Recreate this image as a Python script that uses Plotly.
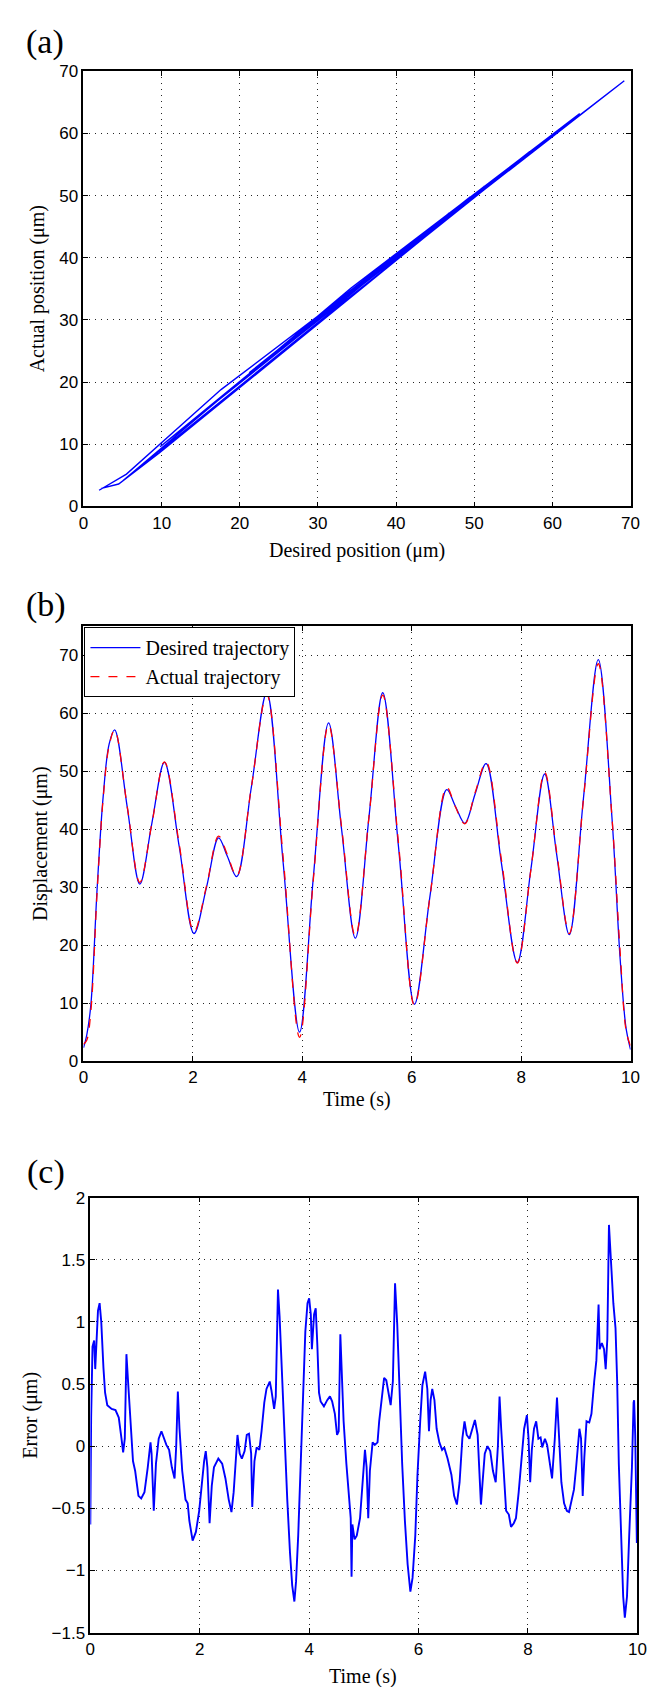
import plotly.graph_objects as go

# ---------------- data ----------------
# Panel (b): time (s), desired and actual displacement (um)
t_b = [0, 0.06, 0.135, 0.25, 0.36, 0.47, 0.57, 0.8, 1.03, 1.25, 1.48, 1.75, 2.02, 2.25,
       2.47, 2.63, 2.8, 3.07, 3.35, 3.65, 3.95, 4.2, 4.48, 4.72, 4.97, 5.22, 5.47, 5.76,
       6.05, 6.33, 6.64, 6.8, 6.97, 7.16, 7.36, 7.64, 7.93, 8.18, 8.43, 8.65, 8.88, 9.14,
       9.41, 9.66, 9.81, 9.92, 10]
desired_b = [2.3, 4.5, 9.7, 29.8, 45.6, 54.7, 57.1, 43.8, 30.5, 41.0, 51.5, 37.0, 22.0, 30.0,
             38.5, 35.3, 31.8, 47.3, 63.5, 34.2, 5.0, 31.5, 58.3, 39.8, 21.2, 42.2, 63.5, 36.8,
             9.8, 28.2, 46.8, 43.9, 41.0, 46.1, 51.3, 34.1, 17.0, 33.2, 49.5, 35.6, 21.8, 45.4,
             69.2, 42.0, 17.6, 5.5, 2.0]
actual_b = [2.9, 3.6, 8.6, 29.2, 45.3, 54.4, 57.1, 43.9, 30.8, 40.9, 51.6, 37.4, 22.3, 30.2,
            38.8, 35.6, 31.9, 47.3, 63.2, 35.1, 4.1, 31.1, 58.0, 40.2, 21.5, 42.2, 63.1, 37.4,
            9.6, 28.1, 47.2, 43.8, 40.9, 46.3, 51.5, 34.7, 16.9, 33.1, 49.8, 36.0, 22.0, 45.2,
            68.5, 42.1, 18.8, 5.2, 2.6]

# Panel (c): tracking error (um) vs time (s)
t_err = [0, 0.015, 0.04, 0.07, 0.09, 0.11, 0.14, 0.17, 0.2, 0.24, 0.27, 0.31, 0.39, 0.46,
         0.52, 0.57, 0.6, 0.63, 0.66, 0.69, 0.73, 0.78, 0.82, 0.88, 0.93, 0.99, 1.05, 1.1,
         1.12, 1.16, 1.2, 1.25, 1.3, 1.35, 1.39, 1.44, 1.49, 1.54, 1.57, 1.6, 1.63, 1.68,
         1.74, 1.78, 1.81, 1.87, 1.93, 1.99, 2.04, 2.08, 2.11, 2.14, 2.18, 2.22, 2.26, 2.34,
         2.41, 2.47, 2.53, 2.58, 2.62, 2.67, 2.69, 2.73, 2.77, 2.82, 2.86, 2.9, 2.94, 2.96,
         3.0, 3.04, 3.09, 3.13, 3.18, 3.22, 3.28, 3.31, 3.36, 3.39, 3.43, 3.46, 3.5, 3.55,
         3.6, 3.65, 3.69, 3.73, 3.76, 3.8, 3.84, 3.88, 3.93, 3.97, 4.0, 4.03, 4.05, 4.09,
         4.12, 4.15, 4.18, 4.21, 4.27, 4.33, 4.38, 4.42, 4.47, 4.51, 4.54, 4.57, 4.6, 4.63,
         4.68, 4.72, 4.76, 4.775, 4.79, 4.83, 4.87, 4.93, 4.98, 5.02, 5.05, 5.08, 5.11, 5.16,
         5.2, 5.25, 5.28, 5.32, 5.37, 5.41, 5.46, 5.49, 5.53, 5.57, 5.61, 5.65, 5.7, 5.75,
         5.8, 5.85, 5.89, 5.94, 5.98, 6.03, 6.07, 6.12, 6.16, 6.19, 6.22, 6.25, 6.29, 6.33,
         6.38, 6.43, 6.47, 6.53, 6.6, 6.65, 6.7, 6.75, 6.8, 6.84, 6.88, 6.93, 6.99, 7.03,
         7.08, 7.11, 7.14, 7.17, 7.21, 7.26, 7.31, 7.36, 7.41, 7.45, 7.48, 7.51, 7.56, 7.6,
         7.65, 7.69, 7.74, 7.78, 7.83, 7.87, 7.93, 7.98, 8.01, 8.04, 8.07, 8.11, 8.15, 8.19,
         8.23, 8.26, 8.31, 8.35, 8.4, 8.44, 8.49, 8.53, 8.57, 8.61, 8.66, 8.71, 8.75, 8.79,
         8.84, 8.88, 8.94, 8.97, 9.0, 9.03, 9.07, 9.12, 9.16, 9.21, 9.25, 9.29, 9.31, 9.35,
         9.39, 9.42, 9.45, 9.48, 9.52, 9.56, 9.6, 9.63, 9.66, 9.7, 9.74, 9.77, 9.81, 9.85,
         9.9, 9.93, 9.94, 9.96, 9.98, 9.99, 10.0]
err = [-0.63, 0.23, 0.8, 0.85, 0.62, 0.86, 1.09, 1.15, 1.0, 0.63, 0.43, 0.33, 0.3, 0.29,
       0.23, 0.06, -0.05, 0.06, 0.74, 0.52, 0.2, -0.12, -0.2, -0.4, -0.42, -0.37, -0.17, 0.03,
       -0.06, -0.52, -0.14, 0.06, 0.12, 0.06, 0.01, -0.03, -0.17, -0.26, 0.0, 0.44, 0.14, -0.2,
       -0.43, -0.46, -0.6, -0.76, -0.69, -0.52, -0.26, -0.12, -0.04, -0.17, -0.62, -0.32, -0.17, -0.1,
       -0.14, -0.26, -0.43, -0.53, -0.37, -0.06, 0.09, -0.06, -0.1, -0.04, 0.09, 0.1, -0.06, -0.49,
       -0.12, -0.01, -0.03, 0.12, 0.35, 0.46, 0.52, 0.45, 0.3, 0.4, 1.26, 1.04, 0.63, 0.0,
       -0.43, -0.86, -1.12, -1.25, -1.09, -0.72, -0.23, 0.4, 0.92, 1.15, 1.19, 1.06, 0.78, 1.06,
       1.11, 0.81, 0.43, 0.36, 0.32, 0.37, 0.4, 0.36, 0.26, 0.09, 0.12, 0.9, 0.58, 0.2,
       -0.14, -0.4, -0.58, -1.05, -0.63, -0.75, -0.72, -0.58, -0.29, -0.03, -0.17, -0.58, -0.2, 0.03,
       0.01, 0.03, 0.2, 0.37, 0.55, 0.53, 0.4, 0.33, 0.52, 1.31, 0.98, 0.4, -0.14, -0.6,
       -0.95, -1.17, -1.06, -0.72, -0.23, 0.2, 0.49, 0.6, 0.46, 0.12, 0.37, 0.46, 0.37, 0.14,
       0.03, -0.03, -0.01, -0.1, -0.23, -0.4, -0.47, -0.29, 0.06, 0.2, 0.09, 0.06, 0.14, 0.21,
       0.09, -0.17, -0.47, -0.29, -0.06, 0.0, -0.04, -0.2, -0.29, 0.0, 0.4, 0.14, -0.26, -0.52,
       -0.55, -0.65, -0.62, -0.58, -0.37, -0.14, 0.14, 0.25, 0.06, -0.29, -0.03, 0.14, 0.2, 0.06,
       0.07, -0.01, 0.06, 0.01, -0.14, -0.26, 0.06, 0.39, 0.06, -0.29, -0.46, -0.52, -0.53, -0.46,
       -0.35, -0.17, 0.14, 0.06, -0.4, -0.09, 0.2, 0.19, 0.26, 0.52, 0.69, 1.14, 0.78, 0.83,
       0.78, 0.62, 0.86, 1.78, 1.44, 1.15, 0.95, 0.52, -0.14, -0.72, -1.21, -1.38, -1.21, -0.72,
       -0.17, 0.35, 0.37, 0.09, -0.58, -0.78, -0.58]

# tick labels
pos_ticks = [0, 10, 20, 30, 40, 50, 60, 70]
time_ticks = [0, 2, 4, 6, 8, 10]
err_ticks = [-1.5, -1, -0.5, 0, 0.5, 1, 1.5, 2]
err_ticktext = ["\u22121.5", "\u22121", "\u22120.5", "0", "0.5", "1", "1.5", "2"]

# ---------------- layout helpers ----------------
W, H = 657, 1687
SANS = "Liberation Sans, Arial, sans-serif"
SERIF = "Liberation Serif, Times New Roman, serif"
BLUE = "#0000FF"
RED = "#FF0000"


def xdom(l, r):
    return [l / W, r / W]


def ydom(t, b):
    return [1 - b / H, 1 - t / H]


def py(p):
    return 1 - p / H


axis_common = dict(
    showline=True, linecolor="black", linewidth=1.6, mirror="ticks",
    ticks="inside", ticklen=5, tickcolor="black", tickwidth=1,
    showgrid=True, gridcolor="rgba(0,0,0,0.85)", gridwidth=1, griddash="1px,5px",
    zeroline=False, tickfont=dict(family=SANS, size=17, color="black"),
)

fig = go.Figure()

# (a) actual vs desired
fig.add_trace(go.Scatter(x=desired_b, y=actual_b, mode="lines",
                         line=dict(color=BLUE, width=1.4),
                         xaxis="x", yaxis="y", showlegend=False))
# (b) trajectories
fig.add_trace(go.Scatter(x=t_b, y=desired_b, mode="lines", name="Desired trajectory",
                         line=dict(color=BLUE, width=1.3, shape="spline"),
                         xaxis="x2", yaxis="y2"))
fig.add_trace(go.Scatter(x=t_b, y=actual_b, mode="lines", name="Actual trajectory",
                         line=dict(color=RED, width=1.3, dash="dash", shape="spline"),
                         xaxis="x2", yaxis="y2"))
# (c) error
fig.add_trace(go.Scatter(x=t_err, y=err, mode="lines",
                         line=dict(color=BLUE, width=1.9),
                         xaxis="x3", yaxis="y3", showlegend=False))

fig.update_layout(
    width=W, height=H,
    margin=dict(l=0, r=0, t=0, b=0),
    paper_bgcolor="white", plot_bgcolor="white",
    xaxis=dict(domain=xdom(72, 631), range=[0, 70], tickvals=pos_ticks, anchor="y", **axis_common),
    yaxis=dict(domain=ydom(55, 495), range=[0, 70], tickvals=pos_ticks, anchor="x", **axis_common),
    xaxis2=dict(domain=xdom(72, 631), range=[0, 10], tickvals=time_ticks, anchor="y2", **axis_common),
    yaxis2=dict(domain=ydom(616, 1056), range=[0, 75], tickvals=pos_ticks, anchor="x2", **axis_common),
    xaxis3=dict(domain=xdom(79, 638), range=[0, 10], tickvals=time_ticks, anchor="y3", **axis_common),
    yaxis3=dict(domain=ydom(1194, 1634), range=[-1.5, 2], tickvals=err_ticks,
                ticktext=err_ticktext, anchor="x3", **axis_common),
    legend=dict(x=73 / W, y=py(617), xanchor="left", yanchor="top",
                bgcolor="white", bordercolor="black", borderwidth=1,
                font=dict(family=SERIF, size=20, color="black"),
                itemwidth=50, tracegroupgap=0),
    showlegend=True,
)

ann = []


def text(x, y, s, size, angle=0):
    ann.append(dict(x=x / W, y=py(y), xref="paper", yref="paper", text=s, showarrow=False,
                    textangle=angle, xanchor="center", yanchor="middle",
                    font=dict(family=SERIF, size=size, color="black")))


text(33, 25, "(a)", 34)
text(34, 595, "(b)", 34)
text(34, 1168, "(c)", 34)
text(351, 540, "Desired position (\u03bcm)", 20)
text(25, 275, "Actual position (\u03bcm)", 20, -90)
text(352, 1095, "Time (s)", 20)
text(28, 836, "Displacement (\u03bcm)", 20, -90)
text(358, 1678, "Time (s)", 20)
text(17, 1414, "Error (\u03bcm)", 20, -90)
fig.update_layout(annotations=ann)

fig.write_html("out.html")
